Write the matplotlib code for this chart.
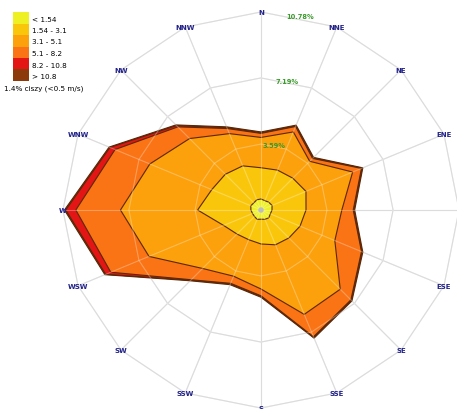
import numpy as np
import matplotlib
matplotlib.use('Agg')
import matplotlib.pyplot as plt
from matplotlib.patches import Polygon, Rectangle, Circle

dirs = ['N', 'NNE', 'NE', 'ENE', 'E', 'ESE', 'SE', 'SSE',
        'S', 'SSW', 'SW', 'WSW', 'W', 'WNW', 'NW', 'NNW']

# frequency [%] of each speed class per direction
v1 = [0.60, 0.55, 0.60, 0.65, 0.60, 0.55, 0.60, 0.55, 0.50, 0.55, 0.50, 0.50, 0.55, 0.60, 0.55, 0.60]
v2 = [1.70, 1.80, 1.85, 2.00, 1.85, 1.75, 1.55, 1.50, 1.35, 1.20, 1.35, 1.70, 2.90, 2.30, 2.20, 2.00]
v3 = [1.65, 2.25, 1.30, 2.75, 1.95, 2.05, 3.95, 4.10, 2.45, 2.15, 2.65, 4.40, 4.20, 3.65, 2.75, 1.90]
v4 = [0.22, 0.32, 0.22, 0.52, 0.62, 1.57, 0.82, 1.32, 0.37, 0.42, 0.87, 2.25, 2.43, 2.05, 0.90, 0.30]
v5 = [0.03, 0.03, 0.03, 0.03, 0.03, 0.03, 0.03, 0.03, 0.03, 0.03, 0.03, 0.30, 0.55, 0.30, 0.10, 0.05]
v6 = [0.05, 0.05, 0.05, 0.05, 0.05, 0.05, 0.05, 0.05, 0.05, 0.05, 0.05, 0.05, 0.07, 0.05, 0.05, 0.05]

classes = ['< 1.54', '1.54 - 3.1', '3.1 - 5.1', '5.1 - 8.2', '8.2 - 10.8', '> 10.8']
colors = ['#EEF024', '#FAC60C', '#FCA00C', '#FA7314', '#E31515', '#8C3A0A']
calm = 1.4
rings = [3.59, 7.19, 10.78]

fig = plt.figure(figsize=(4.57, 4.10), dpi=100)
ax = fig.add_axes([0, 0, 1, 1])
sc = 18.37
ax.set_xlim(-261 / sc, (457 - 261) / sc)
ax.set_ylim(-(410 - 211) / sc, 211 / sc)
ax.axis('off')

ang = np.deg2rad(np.arange(16) * 22.5)
sx, sy = np.sin(ang), np.cos(ang)

def grid(col, lw, alpha, z):
    for r in rings:
        ax.add_patch(Polygon(np.c_[r * sx, r * sy], closed=True, fill=False,
                             ec=col, lw=lw, alpha=alpha, zorder=z))
    for i in range(16):
        ax.plot([0, rings[-1] * sx[i]], [0, rings[-1] * sy[i]], c=col, lw=lw,
                alpha=alpha, zorder=z)

grid('#cdcdcd', 0.8, 1, 1)

cum = np.cumsum(np.array([v1, v2, v3, v4, v5, v6]), axis=0)
for k in range(5, -1, -1):
    ax.add_patch(Polygon(np.c_[cum[k] * sx, cum[k] * sy], closed=True,
                         fc=colors[k], ec='#5a2808', lw=0.8, zorder=2 + (5 - k)))

grid('white', 0.8, 0.3, 9)
ax.add_patch(Circle((0, 0), 0.15, fc='#bdbdbd', ec='none', zorder=10))

R = rings[-1]
for i, d in enumerate(dirs):
    ax.text(R * sx[i], R * sy[i], d, ha='center', va='center', fontsize=5,
            fontweight='bold', color='#22228a', zorder=11)

a = np.deg2rad(11.5)
for r in rings:
    ax.text(r * np.sin(a), r * np.cos(a), '%.2f%%' % r, ha='center', va='center',
            fontsize=4.8, fontweight='bold', color='#3a9a2a', zorder=11)

# legend
W, H = 457, 410
for k, lab in enumerate(classes):
    top = 13 + k * 11.5
    fig.patches.append(Rectangle((13 / W, 1 - (top + 11.5) / H), 16.5 / W, 11.5 / H,
                                 transform=fig.transFigure, fc=colors[k], ec='none'))
    fig.text(32 / W, 1 - (top + 6.5) / H, lab, fontsize=5.2, va='center', ha='left')
fig.text(4 / W, 1 - 89 / H, '%.1f%% ciszy (<0.5 m/s)' % calm, fontsize=5.2,
         va='center', ha='left')

fig.savefig('out.png', dpi=100)
